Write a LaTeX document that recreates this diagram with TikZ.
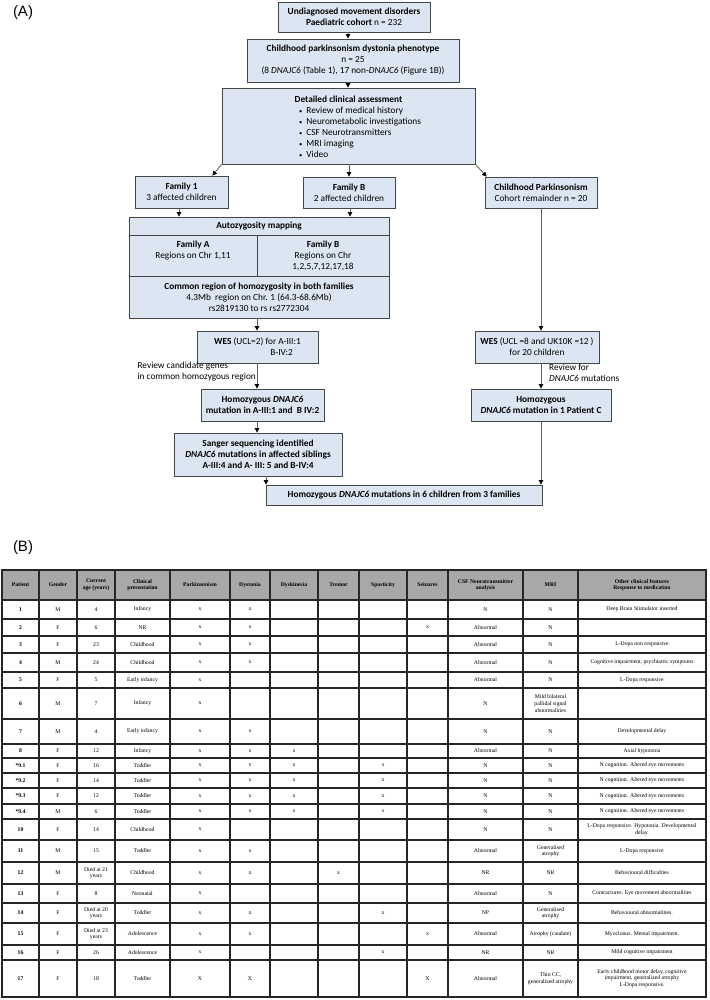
\documentclass[tikz,border=0pt]{standalone}
\usepackage{fontspec}
\setmainfont{Carlito}
\newfontfamily\tabfont{Liberation Serif}
\newfontfamily\labfont{Liberation Sans}
\usetikzlibrary{arrows.meta}
\definecolor{boxblue}{RGB}{220,230,242}
\definecolor{boxline}{RGB}{70,70,70}
\definecolor{hdrgray}{RGB}{168,168,168}
\definecolor{conn}{RGB}{95,95,95}
\newcommand\fcfont{\fontsize{9.3}{11}\selectfont}
\newcommand\smbul{{\fontsize{6.5}{6.5}\selectfont\textbullet}\hspace{4pt}}
\newcommand\trow[3]{%
  \foreach \cx [count=\ci] in {#3}{%
    \pgfmathsetmacro\xc{{20.5,58,96,142.5,200,250,294,338.5,383,427.5,485.5,550.5,642}[\ci-1]}%
    \node[cell] (r#1c\ci) at (\xc,#2) {\cx};}}
\begin{document}
\begin{tikzpicture}[x=1pt,y=-1pt,
  box/.style={draw=boxline, fill=boxblue, line width=0.8pt, align=center, inner sep=1pt, font=\fcfont},
  plain/.style={align=center, inner sep=0pt, font=\fcfont},
  arr/.style={draw=conn, line width=0.8pt, -{Triangle[length=4.5pt,width=4.5pt,color=black]}},
  tline/.style={draw=black!85, line width=1.1pt},
  cell/.style={font=\tabfont\fontsize{5.7}{6.6}\selectfont, align=center, inner sep=0pt},
  lab/.style={font=\labfont\fontsize{15}{15}\selectfont, inner sep=0pt}]
\useasboundingbox (0,0) rectangle (709,1000);
\fill[white] (0,0) rectangle (709,1000);

% labels
\node[lab] (labA) at (23,13) {(A)};
\node[lab] (labB) at (23,548) {(B)};

% helper x positions
\coordinate (xA) at (348,0);
\coordinate (x1) at (179,0);
\coordinate (x2) at (350,0);
\coordinate (x3) at (257,0);
\coordinate (x4) at (266,0);
\coordinate (x5) at (541,0);

% flowchart boxes
\node[box, minimum width=152pt, minimum height=30pt] (b1) at (354,17)
  {\textbf{Undiagnosed movement disorders}\\\textbf{Paediatric cohort} n = 232};
\node[box, minimum width=212pt, minimum height=43pt] (b2) at (353,60.5)
  {\textbf{Childhood parkinsonism dystonia phenotype}\\n = 25\\(8 \textit{DNAJC6} (Table 1), 17 non-\textit{DNAJC6} (Figure 1B))};
\node[box, minimum width=253pt, minimum height=76pt] (b3) at (348.5,126) {};
\node[plain] (b3t) at (348.5,99) {\textbf{Detailed clinical assessment}};
\node[plain, align=left, anchor=west] (b3l) at (299,132)
  {\smbul Review of medical history\\
   \smbul Neurometabolic investigations\\
   \smbul CSF Neurotransmitters\\
   \smbul MRI imaging\\
   \smbul Video};

\node[box, minimum width=93pt, minimum height=32pt] (fam1) at (181.5,192)
  {\textbf{Family 1}\\3 affected children};
\node[box, minimum width=92pt, minimum height=31pt] (famB) at (349,192.5)
  {\textbf{Family B}\\2 affected children};
\node[box, minimum width=112pt, minimum height=31pt] (cp) at (541,192.5)
  {\textbf{Childhood Parkinsonism}\\Cohort remainder n = 20};

% autozygosity box
\node[box, minimum width=260pt, minimum height=101pt] (az) at (259,267.5) {};
\draw[draw=boxline, line width=0.8pt] (az.west |- 0,235) -- (az.east |- 0,235);
\draw[draw=boxline, line width=0.8pt] (az.west |- 0,276) -- (az.east |- 0,276);
\draw[draw=boxline, line width=0.8pt] (257,235) -- (257,276);
\node[plain] (azt) at (259,226) {\textbf{Autozygosity mapping}};
\node[plain] (azA) at (193,250.5) {\textbf{Family A}\\Regions on Chr 1,11};
\node[plain] (azB) at (323,256) {\textbf{Family B}\\Regions on Chr\\1,2,5,7,12,17,18};
\node[plain] (azC) at (259,297)
  {\textbf{Common region of homozygosity in both families}\\4.3Mb\ \ region on Chr. 1 (64.3-68.6Mb)\\rs2819130 to rs rs2772304};

% left branch
\node[box, minimum width=121pt, minimum height=32pt, align=right] (wes1) at (257.5,347)
  {\textbf{WES} (UCL=2) for A-III:1\\B-IV:2\hspace*{8pt}};
\node[plain, align=left, anchor=east] (lab1) at (256,371.5)
  {Review candidate genes\\in common homozygous region};
\node[box, minimum width=123pt, minimum height=32pt] (hom1) at (262.5,405)
  {\textbf{Homozygous \textit{DNAJC6}}\\\textbf{mutation in A-III:1 and\ \ B IV:2}};
\node[box, minimum width=168pt, minimum height=43pt] (sang) at (258,454.5)
  {\textbf{Sanger sequencing identified}\\\textbf{\textit{DNAJC6} mutations in affected siblings}\\\textbf{A-III:4 and A- III: 5 and B-IV:4}};

% right branch
\node[box, minimum width=124pt, minimum height=32pt] (wes2) at (537,347)
  {\textbf{WES} (UCL =8 and UK10K =12 )\\for 20 children};
\node[plain, align=left, anchor=west] (lab2) at (549,372.5)
  {Review for\\\textit{DNAJC6} mutations};
\node[box, minimum width=140pt, minimum height=32pt] (hom2) at (541,405)
  {\textbf{Homozygous}\\\textbf{\textit{DNAJC6} mutation in 1 Patient C}};

\node[box, minimum width=276pt, minimum height=20pt] (final) at (404,495)
  {\textbf{Homozygous \textit{DNAJC6} mutations in 6 children from 3 families}};

% connectors
\draw[arr] (b1.south -| xA) -- (b2.north -| xA);
\draw[arr] (b2.south -| xA) -- (b3.north -| xA);
\draw[arr] (b3.south west) -- ([xshift=-16pt]fam1.north east);
\draw[arr] (b3.south -| famB) -- (famB.north);
\draw[arr] (b3.south east) -- ([xshift=2pt]cp.north west);
\draw[arr] (fam1.south -| x1) -- (az.north -| x1);
\draw[arr] (famB.south -| x2) -- (az.north -| x2);
\draw[arr] (az.south -| x3) -- (wes1.north -| x3);
\draw[arr] (wes1.south -| x3) -- (hom1.north -| x3);
\draw[arr] (hom1.south -| x3) -- (sang.north -| x3);
\draw[arr] (sang.south -| x4) -- (final.north -| x4);
\draw[arr] (cp.south -| x5) -- (wes2.north -| x5);
\draw[arr] (wes2.south -| x5) -- (hom2.north -| x5);
\draw[arr] (hom2.south -| x5) -- (final.north -| x5);

% table grid
\fill[hdrgray] (2,570) rectangle (706,600);
\foreach \gx in {39,77,115,170,230,270,318,359,407,448,523,578}
  \draw[tline] (\gx,570) -- (\gx,997);
\foreach \gy in {600,619,636,653,672,688,719,744,758,773,788,804,819,840,862,884,903,923,945,960}
  \draw[tline] (2,\gy) -- (706,\gy);
\draw[tline, line width=1.6pt] (2,570) rectangle (706,997);

% table contents
\trow{0}{585}{{\textbf{Patient}},{\textbf{Gender}},{\textbf{Current}\\\textbf{age (years)}},{\textbf{Clinical}\\\textbf{presentation}},{\textbf{Parkinsonism}},{\textbf{Dystonia}},{\textbf{Dyskinesia}},{\textbf{Tremor}},{\textbf{Spasticity}},{\textbf{Seizures}},{\textbf{CSF Neurotransmitter}\\\textbf{analysis}},{\textbf{MRI}},{\textbf{Other clinical features}\\\textbf{Response to medication}}}
\trow{1}{609.5}{{\textbf{1}},M,4,Infancy,x,x,,,,,N,N,Deep Brain Stimulator inserted}
\trow{2}{627.5}{{\textbf{2}},F,6,NR,x,x,,,,x,Abnormal,N,}
\trow{3}{644.5}{{\textbf{3}},F,23,Childhood,x,x,,,,,Abnormal,N,L-Dopa non responsive}
\trow{4}{662.5}{{\textbf{4}},M,24,Childhood,x,x,,,,,Abnormal,N,{Cognitive impairment, psychiatric symptoms}}
\trow{5}{680}{{\textbf{5}},F,5,Early infancy,x,,,,,,Abnormal,N,L-Dopa responsive}
\trow{6}{703.5}{{\textbf{6}},M,7,Infancy,x,,,,,,N,{Mild bilateral\\pallidal signal\\abnormalities},}
\trow{7}{731.5}{{\textbf{7}},M,4,Early infancy,x,x,,,,,N,N,Developmental delay}
\trow{8}{751}{{\textbf{8}},F,12,Infancy,x,x,x,,,,Abnormal,N,Axial hypotonia}
\trow{9}{765.5}{{\textbf{*9.1}},F,16,Toddler,x,x,x,,x,,N,N,N cognition. Altered eye movements}
\trow{10}{780.5}{{\textbf{*9.2}},F,14,Toddler,x,x,x,,x,,N,N,N cognition. Altered eye movements}
\trow{11}{796}{{\textbf{*9.3}},F,12,Toddler,x,x,x,,x,,N,N,N cognition. Altered eye movements}
\trow{12}{811.5}{{\textbf{*9.4}},M,6,Toddler,x,x,x,,x,,N,N,N cognition. Altered eye movements}
\trow{13}{829.5}{{\textbf{10}},F,14,Childhood,x,,,,,,N,N,{L-Dopa responsive. Hypotonia. Developmental\\delay.}}
\trow{14}{851}{{\textbf{11}},M,15,Toddler,x,x,,,,,Abnormal,{Generalised\\atrophy},L-Dopa responsive}
\trow{15}{873}{{\textbf{12}},M,{Died at 21\\years},Childhood,x,x,,x,,,NR,NR,Behavioural difficulties}
\trow{16}{893.5}{{\textbf{13}},F,8,Neonatal,x,,,,,,Abnormal,N,Contractures. Eye movement abnormalities}
\trow{17}{913}{{\textbf{14}},F,{Died at 20\\years},Toddler,x,x,,,x,,NP,{Generalised\\atrophy},Behavioural abnormalities.}
\trow{18}{934}{{\textbf{15}},F,{Died at 23\\years},Adolescence,x,x,,,,x,Abnormal,Atrophy (caudate),Myoclonus. Mental impairment.}
\trow{19}{952.5}{{\textbf{16}},F,26,Adolescence,x,,,,x,,NR,NR,Mild cognitive impairment}
\trow{20}{978.5}{{\textbf{17}},F,18,Toddler,X,X,,,,X,Abnormal,{Thin CC,\\generalized atrophy},{Early childhood motor delay, cognitive\\impairment, generalized atrophy\\L-Dopa responsive.}}
\end{tikzpicture}
\end{document}
